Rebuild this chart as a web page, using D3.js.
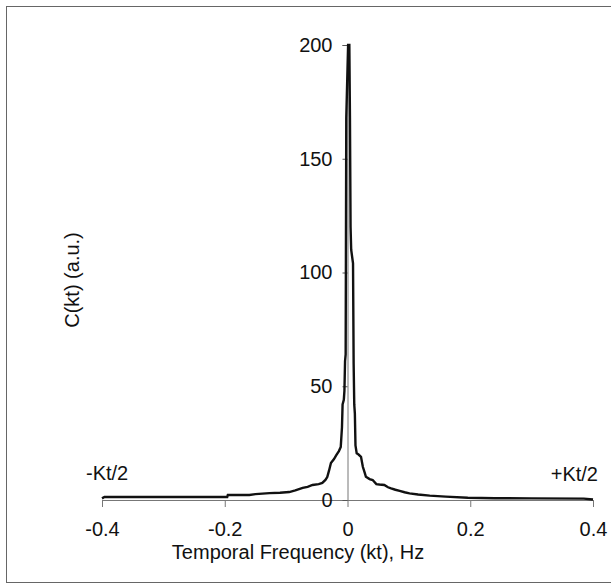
<!DOCTYPE html>
<meta charset="UTF-8">
<script src="https://cdnjs.cloudflare.com/ajax/libs/d3/7.4.4/d3.min.js"></script>
<style>
    body { margin: 0; background: #fff; }
    text { font-family: "Liberation Sans", Arial, sans-serif; fill: #111; }
</style>
<svg id="my_dataviz" width="611" height="586"></svg>
<script>
    // spectrum (Hz, a.u.)
    let freq = [-0.400, -0.396, -0.300, -0.196, -0.195, -0.160, -0.150, -0.127, -0.110, -0.095, -0.085, -0.073,
        -0.065, -0.057, -0.047, -0.041, -0.036, -0.033, -0.030, -0.027, -0.022, -0.018, -0.014, -0.011,
        -0.009, -0.008, -0.006, -0.005, -0.004, -0.003, -0.002, 0.001, 0.003, 0.004, 0.005, 0.006,
        0.009, 0.010, 0.011, 0.012, 0.013, 0.015, 0.018, 0.022, 0.025, 0.028, 0.030, 0.036, 0.041,
        0.047, 0.052, 0.060, 0.066, 0.071, 0.078, 0.085, 0.093, 0.101, 0.115, 0.134, 0.160, 0.196,
        0.240, 0.300, 0.385, 0.400];
    let power = [0.7, 1.3, 1.3, 1.3, 2.2, 2.2, 2.6, 3.0, 3.2, 3.5, 4.2, 5.3,
        5.8, 6.6, 7.0, 7.5, 8.8, 10.1, 13.0, 16.3, 18.0, 19.8, 21.5, 23.3,
        32, 42, 44, 48, 61, 64, 168, 200, 200, 168, 120, 110,
        104, 60, 42, 38, 24, 20.5, 20, 19, 14.6, 12.0, 10.2, 9.2, 8.8,
        7.0, 6.8, 6.6, 5.6, 5.1, 4.5, 4.0, 3.4, 2.9, 2.4, 1.9, 1.5, 1.0,
        0.8, 0.7, 0.6, 0.2];
    let xTicks = [-0.4, -0.2, 0, 0.2, 0.4];
    let xTickLabels = ["-0.4", "-0.2", "0", "0.2", "0.4"];
    let yTicks = [0, 50, 100, 150, 200];

    let svg = d3.select("svg");

    svg.append("rect")
        .attr("x", 6.5).attr("y", 6.5)
        .attr("width", 606).attr("height", 576)
        .style("fill", "none")
        .style("stroke", "#666")
        .style("stroke-width", 1);

    let x = d3.scaleLinear().domain([-0.4, 0.4]).range([102, 593]);
    let y = d3.scaleLinear().domain([0, 200]).range([500, 45]);

    // x axis
    let xAxis = svg.append("g")
        .attr("transform", "translate(0," + y(0) + ")")
        .call(d3.axisBottom(x).tickValues(xTicks).tickSize(7).tickFormat(function (d, i) {
            return xTickLabels[i];
        }));
    xAxis.select(".domain").style("stroke", "#777");
    xAxis.selectAll(".tick line").style("stroke", "#777");
    xAxis.selectAll("text")
        .attr("y", 22)
        .style("font-size", "20px")
        .style("font-family", "Liberation Sans, Arial, sans-serif")
        .style("fill", "#111");

    // y axis sits at zero frequency
    let yAxis = svg.append("g")
        .attr("transform", "translate(" + x(0) + ",0)")
        .call(d3.axisLeft(y).tickValues(yTicks).tickSize(5).tickPadding(10));
    yAxis.select(".domain").style("stroke", "#777");
    yAxis.selectAll(".tick line").style("stroke", "#555");
    yAxis.selectAll("text")
        .style("font-size", "20px")
        .style("font-family", "Liberation Sans, Arial, sans-serif")
        .style("fill", "#111");

    let line = d3.line()
        .x(function (d, i) { return x(freq[i]); })
        .y(function (d) { return y(d); });

    svg.append("path")
        .datum(power)
        .attr("d", line)
        .style("fill", "none")
        .style("stroke", "#111")
        .style("stroke-width", 2.4)
        .style("stroke-linejoin", "miter");

    svg.append("text")
        .attr("x", 298).attr("y", 559)
        .style("text-anchor", "middle")
        .style("font-size", "20px")
        .text("Temporal Frequency (kt), Hz");

    svg.append("text")
        .attr("transform", "translate(79,280) rotate(-90)")
        .style("text-anchor", "middle")
        .style("font-size", "20px")
        .text("C(kt) (a.u.)");

    svg.append("text")
        .attr("x", 86).attr("y", 480)
        .style("font-size", "20px")
        .text("-Kt/2");

    svg.append("text")
        .attr("x", 598).attr("y", 481)
        .style("text-anchor", "end")
        .style("font-size", "20px")
        .text("+Kt/2");
</script>
